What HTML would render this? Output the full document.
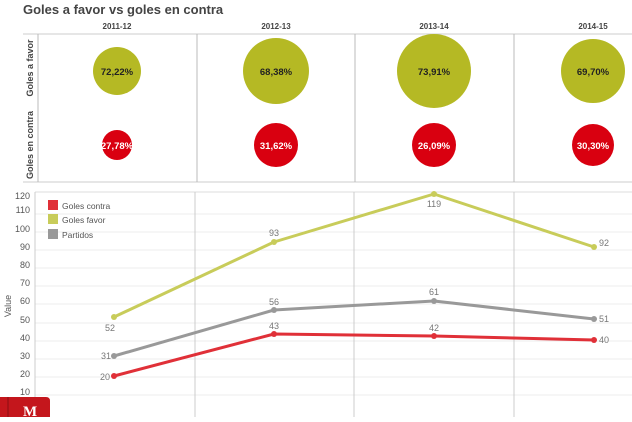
<!DOCTYPE html>
<html><head><style>
body{margin:0;width:632px;height:417px;overflow:hidden;background:#fff;font-family:"Liberation Sans",sans-serif}
</style></head><body>
<svg width="632" height="417" xmlns="http://www.w3.org/2000/svg" font-family="Liberation Sans, sans-serif">
<text x="23" y="14" font-size="13" font-weight="bold" fill="#444">Goles a favor vs goles en contra</text>
<g font-size="8" font-weight="bold" fill="#444" text-anchor="middle">
<text x="117" y="29">2011-12</text><text x="276" y="29">2012-13</text><text x="434" y="29">2013-14</text><text x="593" y="29">2014-15</text>
</g>
<line x1="23" y1="34" x2="632" y2="34" stroke="#ccc"/>
<line x1="23" y1="182" x2="632" y2="182" stroke="#ccc"/>
<g stroke="#bbb"><line x1="38" y1="34" x2="38" y2="182"/><line x1="197" y1="34" x2="197" y2="182"/><line x1="355" y1="34" x2="355" y2="182"/><line x1="514" y1="34" x2="514" y2="182"/></g>
<g font-size="9" font-weight="bold" fill="#444" text-anchor="middle">
<text transform="translate(33,68) rotate(-90)">Goles a favor</text>
<text transform="translate(33,145) rotate(-90)">Goles en contra</text>
</g>
<g fill="#b5b924"><circle cx="117" cy="71" r="24"/><circle cx="276" cy="71" r="33"/><circle cx="434" cy="71" r="37"/><circle cx="593" cy="71" r="32"/></g>
<g fill="#d90010"><circle cx="117" cy="145" r="15"/><circle cx="276" cy="145" r="22"/><circle cx="434" cy="145" r="22"/><circle cx="593" cy="145" r="21"/></g>
<g font-size="9.5" font-weight="bold" text-anchor="middle" fill="#222">
<text x="117" y="75">72,22%</text><text x="276" y="75">68,38%</text><text x="434" y="75">73,91%</text><text x="593" y="75">69,70%</text>
</g>
<g font-size="9.5" font-weight="bold" text-anchor="middle" fill="#fff">
<text x="117" y="149">27,78%</text><text x="276" y="149">31,62%</text><text x="434" y="149">26,09%</text><text x="593" y="149">30,30%</text>
</g>
<!-- line chart -->
<line x1="35" y1="192" x2="632" y2="192" stroke="#ddd"/>
<g stroke="#eee">
<line x1="35" y1="214" x2="632" y2="214"/><line x1="35" y1="232" x2="632" y2="232"/><line x1="35" y1="250" x2="632" y2="250"/><line x1="35" y1="268" x2="632" y2="268"/><line x1="35" y1="286" x2="632" y2="286"/><line x1="35" y1="304" x2="632" y2="304"/><line x1="35" y1="323" x2="632" y2="323"/><line x1="35" y1="341" x2="632" y2="341"/><line x1="35" y1="359" x2="632" y2="359"/><line x1="35" y1="377" x2="632" y2="377"/><line x1="35" y1="395" x2="632" y2="395"/>
</g>
<g stroke="#ccc"><line x1="35" y1="192" x2="35" y2="417"/><line x1="195" y1="192" x2="195" y2="417"/><line x1="354" y1="192" x2="354" y2="417"/><line x1="514" y1="192" x2="514" y2="417"/></g>
<g font-size="9" fill="#555" text-anchor="end">
<text x="30" y="199">120</text><text x="30" y="213">110</text><text x="30" y="232">100</text><text x="30" y="250">90</text><text x="30" y="268">80</text><text x="30" y="286">70</text><text x="30" y="304">60</text><text x="30" y="323">50</text><text x="30" y="341">40</text><text x="30" y="359">30</text><text x="30" y="377">20</text><text x="30" y="395">10</text>
</g>
<text transform="translate(11,306) rotate(-90)" font-size="9" fill="#555" text-anchor="middle">Value</text>
<g fill="none" stroke-width="3" stroke-linejoin="round">
<polyline stroke="#c8cc5a" points="114,317 274,242 434,194 594,247"/>
<polyline stroke="#999" points="114,356 274,310 434,301 594,319"/>
<polyline stroke="#e03038" points="114,376 274,334 434,336 594,340"/>
</g>
<g fill="#c8cc5a"><circle cx="114" cy="317" r="3"/><circle cx="274" cy="242" r="3"/><circle cx="434" cy="194" r="3"/><circle cx="594" cy="247" r="3"/></g>
<g fill="#999"><circle cx="114" cy="356" r="3"/><circle cx="274" cy="310" r="3"/><circle cx="434" cy="301" r="3"/><circle cx="594" cy="319" r="3"/></g>
<g fill="#e03038"><circle cx="114" cy="376" r="3"/><circle cx="274" cy="334" r="3"/><circle cx="434" cy="336" r="3"/><circle cx="594" cy="340" r="3"/></g>
<g font-size="9" fill="#777" text-anchor="middle">
<text x="110" y="331">52</text><text x="274" y="236">93</text><text x="434" y="207">119</text><text x="604" y="246">92</text>
<text x="106" y="359">31</text><text x="274" y="305">56</text><text x="434" y="295">61</text><text x="604" y="322">51</text>
<text x="105" y="380">20</text><text x="274" y="329">43</text><text x="434" y="331">42</text><text x="604" y="343">40</text>
</g>
<rect x="48" y="200" width="10" height="10" fill="#e03038"/><rect x="48" y="214" width="10" height="10" fill="#c8cc5a"/><rect x="48" y="229" width="10" height="10" fill="#999"/>
<g font-size="8.5" fill="#555"><text x="62" y="209">Goles contra</text><text x="62" y="223">Goles favor</text><text x="62" y="238">Partidos</text></g>
<path d="M0,397 H46 Q50,397 50,401 V417 H0 Z" fill="#c4161c"/>
<line x1="8" y1="397" x2="8" y2="417" stroke="#8a0f12"/>
<text x="23" y="416" font-size="15" font-weight="bold" fill="#fff" font-family="Liberation Serif, serif">M</text>
</svg>
</body></html>
